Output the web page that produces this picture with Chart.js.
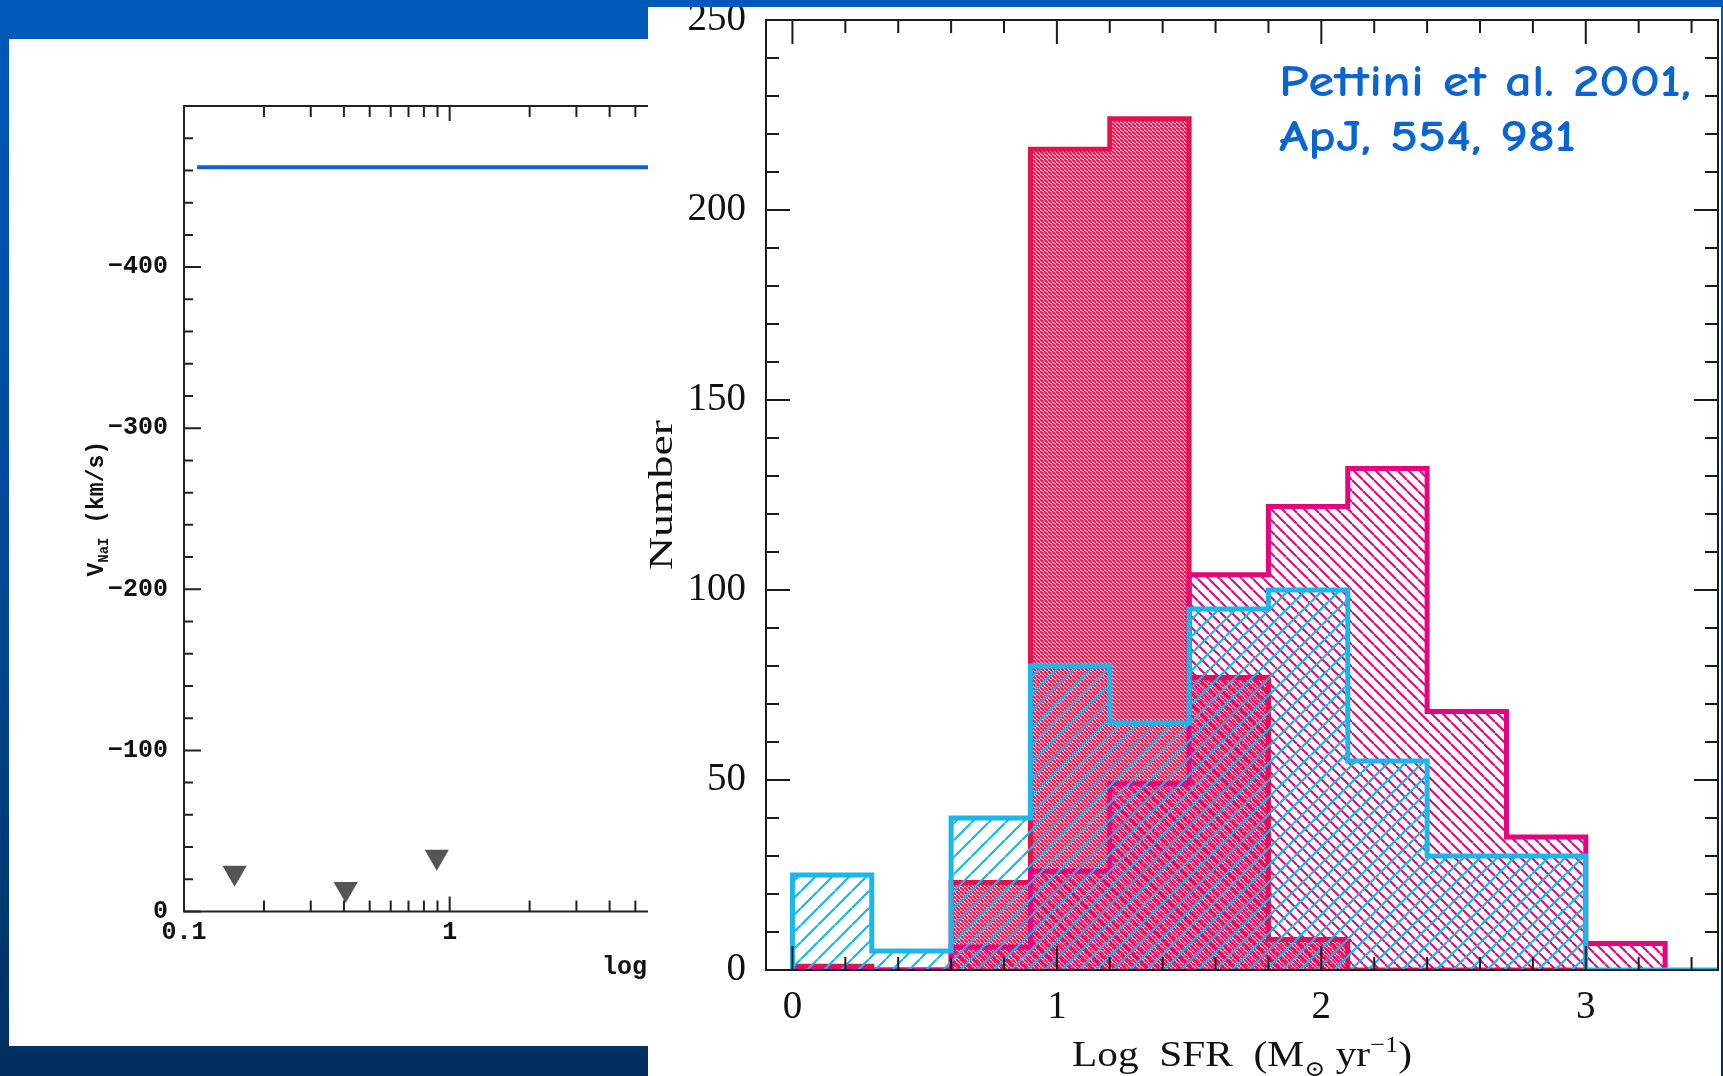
<!DOCTYPE html>
<html>
<head>
<meta charset="utf-8">
<script src="https://cdn.jsdelivr.net/npm/chart.js@4.4.1/dist/chart.umd.min.js"></script>
<style>
  html, body { margin: 0; padding: 0; }
  body {
    width: 1723px; height: 1076px; overflow: hidden; position: relative;
    background: linear-gradient(to bottom, #0059ba 0%, #00468f 60%, #002f5e 100%);
  }
  .panel { position: absolute; background: #fff; }
  #leftPanel { left: 9px; top: 39px; width: 1100px; height: 1007px; }
  #rightPanel { left: 648px; top: 7px; width: 1073px; height: 1069px; }
  canvas { display: block; }
</style>
</head>
<body>
<div class="panel" id="leftPanel"><canvas id="windChart" width="1100" height="1007"></canvas></div>
<div class="panel" id="rightPanel"><canvas id="sfrChart" width="1073" height="1069"></canvas></div>
<script>
// outflow velocity vs SFR (left panel)
const windLineSfr = [0.112, 60];
const windLineVel = [-462, -462];
const limitSfr = [0.155, 0.406, 0.894];
const limitVel = [-24, -14, -34];
const detSfr = [54];
const detVel = [-11];
const velTicks = [0, -100, -200, -300, -400];
const sfrLogTicks = [0.1, 1, 10];

// Log SFR histograms (right panel), 0.3 dex bins
const binStart = [0, 0.3, 0.6, 0.9, 1.2, 1.5, 1.8, 2.1, 2.4, 2.7, 3.0, 3.3];
const binWidth = 0.3;
const countsCrimson = [1, 0, 23, 216, 224, 77, 8, 0, 0, 0];
const countsPink = [0, 0, 6, 26, 49, 104, 122, 132, 68, 35, 7];
const countsCyan = [25, 5, 40, 80, 65, 95, 100, 55, 30, 30, 0, 0];
const logSfrTicks = [0, 1, 2, 3];
const numberTicks = [0, 50, 100, 150, 200, 250];

const CRIMSON = '#e3124c';
const PINK = '#e6037f';
const CYAN = '#19b7ec';

function pts(xs, ys) {
  return xs.map((x, i) => ({ x: x, y: ys[i] }));
}

// outline of a histogram as a stepped line closed down to zero at both ends
function histPoints(counts) {
  const out = [{ x: binStart[0], y: 0 }];
  counts.forEach((c, i) => out.push({ x: binStart[i], y: c }));
  out.push({ x: binStart[counts.length - 1] + binWidth, y: 0 });
  return out;
}

function hatch(ctx, color, gap, width, dir) {
  const c = document.createElement('canvas');
  c.width = c.height = gap;
  const g = c.getContext('2d');
  g.strokeStyle = color;
  g.lineWidth = width;
  g.beginPath();
  for (const k of [-gap, 0, gap]) {
    if (dir === 'back') { g.moveTo(k, 0); g.lineTo(k + gap, gap); }
    else { g.moveTo(k, gap); g.lineTo(k + gap, 0); }
  }
  g.stroke();
  return ctx.createPattern(c, 'repeat');
}

// frame plus inward tick marks on all four sides
const frameTicks = {
  id: 'frameTicks',
  afterDatasetsDraw(chart, args, opts) {
    const { ctx, chartArea: a, scales: { x, y } } = chart;
    ctx.save();
    ctx.strokeStyle = opts.color;
    ctx.lineWidth = opts.width;
    ctx.beginPath();
    for (const t of opts.xMarks(x)) {
      const px = x.getPixelForValue(t.v);
      if (px < a.left - 1 || px > a.right + 1) continue;
      ctx.moveTo(px, a.bottom); ctx.lineTo(px, a.bottom - t.len);
      ctx.moveTo(px, a.top); ctx.lineTo(px, a.top + t.len);
    }
    for (const t of opts.yMarks(y)) {
      const py = y.getPixelForValue(t.v);
      ctx.moveTo(a.left, py); ctx.lineTo(a.left + t.len, py);
      ctx.moveTo(a.right, py); ctx.lineTo(a.right - t.len, py);
    }
    ctx.stroke();
    ctx.strokeRect(a.left, a.top, a.right - a.left, a.bottom - a.top);
    ctx.restore();
  }
};

// ---------- left panel ----------
const windTitles = {
  id: 'windTitles',
  afterDraw(chart) {
    const { ctx, chartArea: a } = chart;
    ctx.save();
    ctx.fillStyle = '#111';
    ctx.textBaseline = 'middle';
    ctx.translate(a.left - 87, (a.top + a.bottom) / 2);
    ctx.rotate(-Math.PI / 2);
    ctx.font = 'bold 23px "Liberation Mono"';
    const wV = ctx.measureText('V').width;
    ctx.font = 'bold 14px "Liberation Mono"';
    const wSub = ctx.measureText('NaI').width;
    ctx.font = 'bold 23px "Liberation Mono"';
    const wRest = ctx.measureText(' (km/s)').width;
    let cx = -(wV + wSub + wRest) / 2;
    ctx.fillText('V', cx, 0); cx += wV;
    ctx.font = 'bold 14px "Liberation Mono"';
    ctx.fillText('NaI', cx, 7); cx += wSub;
    ctx.font = 'bold 23px "Liberation Mono"';
    ctx.fillText(' (km/s)', cx, 0);
    ctx.restore();

    ctx.save();
    ctx.fillStyle = '#111';
    ctx.font = 'bold 25px "Liberation Mono"';
    ctx.textBaseline = 'middle';
    ctx.fillText('log SFR', a.left + 418, a.bottom + 56);
    ctx.restore();
  }
};

const wctx = document.getElementById('windChart').getContext('2d');
new Chart(wctx, {
  type: 'scatter',
  data: {
    datasets: [
      {
        data: pts(windLineSfr, windLineVel),
        showLine: true,
        borderColor: '#0d62d2',
        borderWidth: 4,
        pointRadius: 0
      },
      {
        data: pts(limitSfr, limitVel),
        pointStyle: 'triangle',
        rotation: 180,
        pointRadius: 14,
        backgroundColor: '#555',
        borderColor: '#555',
        borderWidth: 0
      },
      {
        data: pts(detSfr, detVel),
        pointStyle: 'rect',
        pointRadius: 9,
        backgroundColor: '#b4b4b4',
        borderWidth: 0
      }
    ]
  },
  options: {
    responsive: false,
    animation: false,
    events: [],
    layout: { padding: { left: 0, top: 67, right: 128, bottom: 0 } },
    plugins: {
      legend: { display: false },
      tooltip: { enabled: false },
      frameTicks: {
        color: '#222',
        width: 2,
        xMarks: function (s) {
          const out = [];
          for (const d of [0.1, 1, 10]) {
            for (let m = 1; m <= 9; m++) out.push({ v: d * m, len: m === 1 ? 15 : 11 });
          }
          return out;
        },
        yMarks: function (s) {
          const out = [];
          for (let v = -500; v <= 0; v += 20) out.push({ v: v, len: v % 100 === 0 ? 17 : 9 });
          return out;
        }
      }
    },
    scales: {
      x: {
        type: 'logarithmic',
        min: 0.1,
        max: 100,
        grid: { display: false, drawTicks: false },
        border: { display: false },
        afterBuildTicks: s => { s.ticks = sfrLogTicks.map(v => ({ value: v })); },
        afterFit: s => { s.height = 134.5; s.paddingLeft = 0; s.paddingRight = 0; },
        ticks: {
          autoSkip: false,
          maxRotation: 0,
          padding: 6,
          color: '#111',
          font: { family: 'Liberation Mono', size: 25, weight: 'bold' },
          callback: v => String(v)
        }
      },
      y: {
        min: -500,
        max: 0,
        reverse: true,
        grid: { display: false, drawTicks: false },
        border: { display: false },
        afterBuildTicks: s => { s.ticks = velTicks.map(v => ({ value: v })); },
        afterFit: s => { s.width = 175; s.paddingTop = 0; s.paddingBottom = 0; },
        ticks: {
          padding: 16,
          color: '#111',
          font: { family: 'Liberation Mono', size: 25, weight: 'bold' },
          callback: v => (v === 0 ? '0' : '\u2212' + Math.abs(v))
        }
      }
    }
  },
  plugins: [frameTicks, windTitles]
});

// ---------- right panel ----------
const sfrTitles = {
  id: 'sfrTitles',
  afterDraw(chart) {
    const { ctx, chartArea: a, scales: { x, y } } = chart;

    // y title
    ctx.save();
    ctx.fillStyle = '#111';
    ctx.font = '33px "Liberation Serif"';
    ctx.translate(a.left - 103, (a.top + a.bottom) / 2);
    ctx.rotate(-Math.PI / 2);
    ctx.scale(150 / ctx.measureText('Number').width, 1);
    ctx.textAlign = 'center';
    ctx.textBaseline = 'middle';
    ctx.fillText('Number', 0, 0);
    ctx.restore();

    // x title with subscript sun symbol and superscript -1
    const parts = [
      { t: 'Log  SFR  (M', size: 36, dy: 0 },
      { t: '\u2299', size: 22, dy: 10 },
      { t: ' yr', size: 36, dy: 0 },
      { t: '\u22121', size: 23, dy: -14 },
      { t: ')', size: 36, dy: 0 }
    ];
    ctx.save();
    ctx.fillStyle = '#111';
    ctx.textBaseline = 'alphabetic';
    let total = 0;
    for (const p of parts) {
      ctx.font = p.size + 'px "Liberation Serif", "DejaVu Serif"';
      p.w = ctx.measureText(p.t).width;
      total += p.w;
    }
    const sx = 340 / total;
    ctx.translate((a.left + a.right) / 2 - 170, a.bottom + 96);
    ctx.scale(sx, 1);
    let cx = 0;
    for (const p of parts) {
      ctx.font = p.size + 'px "Liberation Serif", "DejaVu Serif"';
      ctx.fillText(p.t, cx, p.dy);
      cx += p.w;
    }
    ctx.restore();

    // reference note
    ctx.save();
    ctx.fillStyle = '#0a65d0';
    ctx.font = 'bold 45px "Comic Sans MS", "Comic Neue", "DejaVu Sans"';
    const l1 = 'Pettini et al. 2001,';
    const l2 = 'ApJ, 554, 981';
    const k = 412 / ctx.measureText(l1).width;
    const nx = x.getPixelForValue(1.84);
    ctx.translate(nx, 0);
    ctx.scale(k, 1);
    ctx.fillText(l1, 0, y.getPixelForValue(230));
    ctx.fillText(l2, 0, y.getPixelForValue(215.5));
    ctx.restore();
  }
};

const sctx = document.getElementById('sfrChart').getContext('2d');

function histSet(counts, color, fillPattern) {
  return {
    data: histPoints(counts),
    stepped: true,
    fill: 'origin',
    backgroundColor: fillPattern,
    borderColor: color,
    borderWidth: 5,
    borderJoinStyle: 'miter',
    pointRadius: 0,
    tension: 0
  };
}

new Chart(sctx, {
  type: 'line',
  data: {
    datasets: [
      histSet(countsCyan, CYAN, hatch(sctx, CYAN, 17, 2.2, 'fwd')),
      histSet(countsPink, PINK, hatch(sctx, PINK, 11, 2, 'back')),
      histSet(countsCrimson, CRIMSON, hatch(sctx, CRIMSON, 4, 2, 'back'))
    ]
  },
  options: {
    responsive: false,
    animation: false,
    events: [],
    layout: { padding: { left: 0, top: 13, right: 3, bottom: 0 } },
    plugins: {
      legend: { display: false },
      tooltip: { enabled: false },
      frameTicks: {
        color: '#1a1a1a',
        width: 2,
        xMarks: function (s) {
          const out = [];
          for (let i = 0; i * 0.2 <= s.max + 1e-9; i++) out.push({ v: i * 0.2, len: i % 5 === 0 ? 24 : 13 });
          return out;
        },
        yMarks: function (s) {
          const out = [];
          for (let v = 0; v <= s.max; v += 10) out.push({ v: v, len: v % 50 === 0 ? 24 : 13 });
          return out;
        }
      }
    },
    scales: {
      x: {
        type: 'linear',
        min: -0.1,
        max: 3.5,
        grid: { display: false, drawTicks: false },
        border: { display: false },
        afterBuildTicks: s => { s.ticks = logSfrTicks.map(v => ({ value: v })); },
        afterFit: s => { s.height = 106; s.paddingLeft = 0; s.paddingRight = 0; },
        ticks: {
          maxRotation: 0,
          autoSkip: false,
          padding: 14,
          color: '#111',
          font: { family: 'Liberation Serif', size: 39 }
        }
      },
      y: {
        min: 0,
        max: 250,
        grid: { display: false, drawTicks: false },
        border: { display: false },
        afterBuildTicks: s => { s.ticks = numberTicks.map(v => ({ value: v })); },
        afterFit: s => { s.width = 118; s.paddingTop = 0; s.paddingBottom = 0; },
        ticks: {
          padding: 20,
          color: '#111',
          font: { family: 'Liberation Serif', size: 39 }
        }
      }
    }
  },
  plugins: [frameTicks, sfrTitles]
});
</script>
</body>
</html>
